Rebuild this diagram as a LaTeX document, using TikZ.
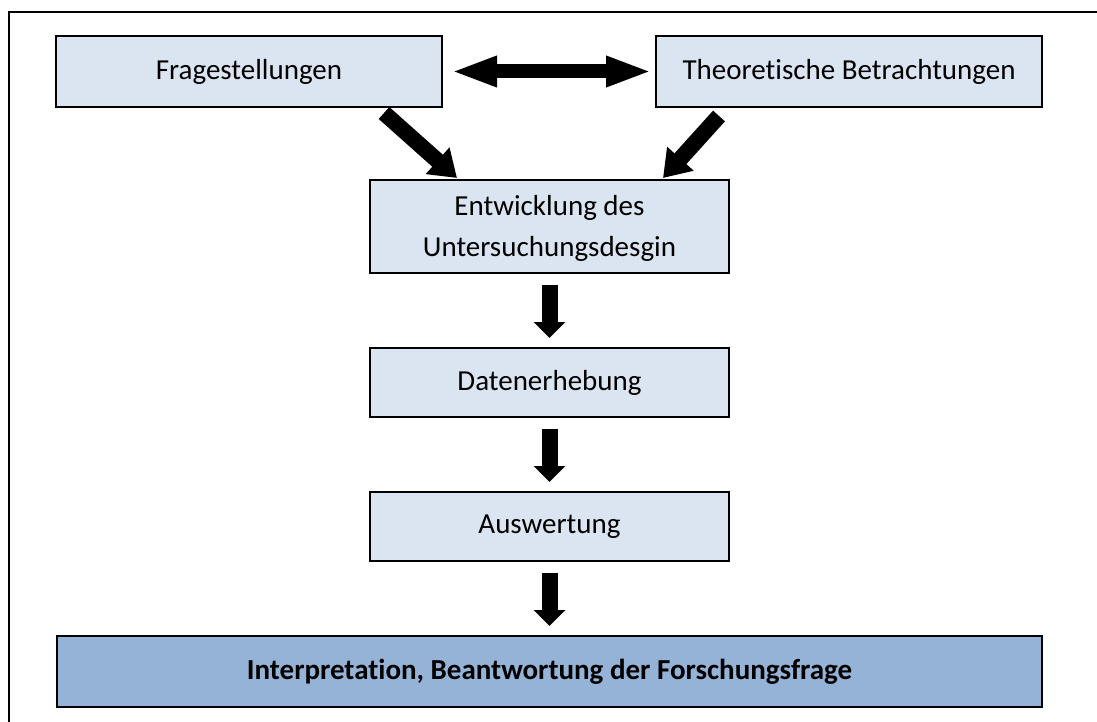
\documentclass[tikz,border=0pt]{standalone}
\usepackage{fontspec}
\setmainfont[RawFeature={-liga;-clig;-calt;-dlig}]{Carlito}
\usetikzlibrary{arrows.meta,positioning}

\definecolor{boxblue}{HTML}{DBE5F1}
\definecolor{darkblue}{HTML}{95B3D7}

\begin{document}
\begin{tikzpicture}[x=0.5pt,y=-0.5pt,node distance=37.5pt,
                    box/.style={draw,line width=0.8pt,fill=boxblue,outer sep=0pt,
                      minimum width=179.5pt,minimum height=34.5pt,align=center,
                      font=\fontsize{14.5}{20.5}\selectfont},
                    blockarrow/.style={line width=8pt,-{Triangle[width=15.5pt,length=8pt]}},
                    slantarrow/.style={line width=8pt,-{Triangle[width=17pt,length=13pt]}},
                    dblarrow/.style={line width=7pt,{Triangle[width=14pt,length=23pt]}-{Triangle[width=14pt,length=23pt]}}]
  \useasboundingbox (0,0) rectangle (1097,722);
  % frame, only top and left edge inside the page
  \draw[line width=1pt] (9,760) |- (1130,12);

  \node[box,minimum width=193pt,minimum height=35.5pt] (frage) at (249,71.5) {Fragestellungen};
  \node[box,minimum width=193pt,minimum height=35.5pt] (theo)  at (849,71.5) {Theoretische Betrachtungen};
  \node[box,minimum height=46.5pt,text depth=1pt] (entw) at (549.5,226.5) {Entwicklung des\\Untersuchungsdesgin};
  \node[box] (daten) [below=of entw]  {Datenerhebung};
  \node[box] (ausw)  [below=of daten] {Auswertung};
  \node[box,fill=darkblue,line width=1pt,minimum width=492.5pt,minimum height=35.5pt,
        font=\fontsize{14.5}{17}\selectfont\bfseries] (interp) [below=of ausw]
        {Interpretation, Beantwortung der Forschungsfrage};

  \draw[dblarrow,shorten <=4.5pt,shorten >=2pt] (frage.east) -- (theo.west);
  \draw[slantarrow] ([xshift=-29pt,yshift=-3pt]frage.south east) -- ([xshift=43.5pt,yshift=1pt]entw.north west);
  \draw[slantarrow] ([xshift=31.5pt,yshift=-4.5pt]theo.south west) -- ([xshift=-33pt,yshift=1pt]entw.north east);
  \draw[blockarrow,shorten <=6pt,shorten >=5pt] (entw) -- (daten);
  \draw[blockarrow,shorten <=6pt,shorten >=5pt] (daten) -- (ausw);
  \draw[blockarrow,shorten <=6pt,shorten >=5pt] (ausw) -- (interp);
\end{tikzpicture}
\end{document}
